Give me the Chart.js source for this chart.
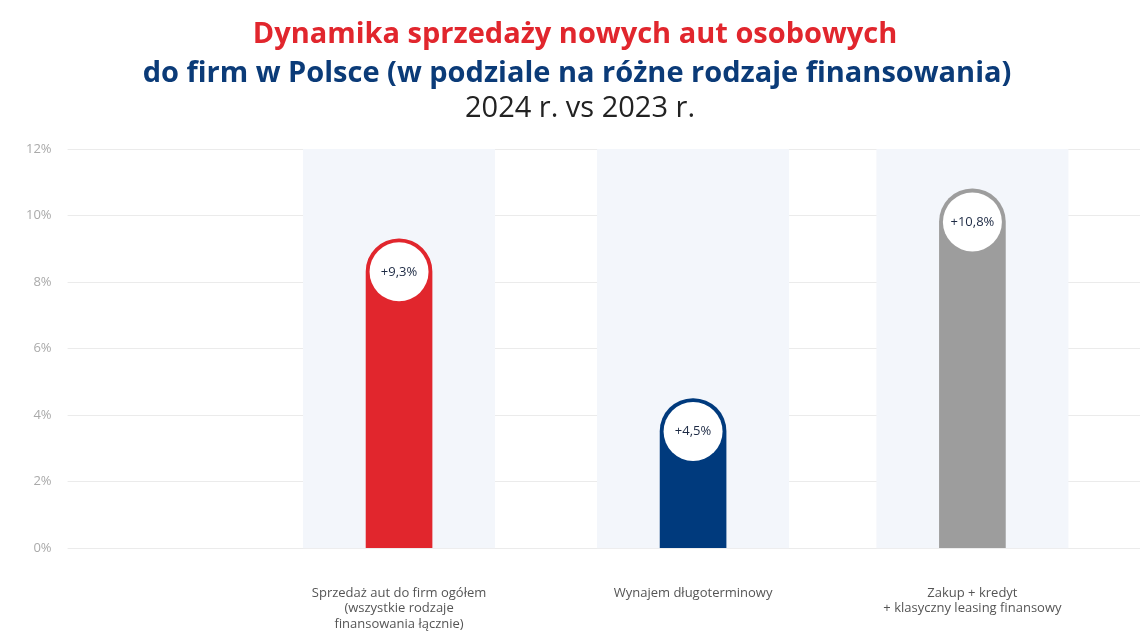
<!DOCTYPE html><html><head><meta charset="utf-8">
<script src="https://cdn.jsdelivr.net/npm/chart.js@4"></script>
<style>html,body{margin:0;padding:0;background:#fff}#w{width:1140px;height:642px}</style></head><body>
<div id="w"><canvas id="c" width="1140" height="642"></canvas></div>
<script>
const categories = [["Sprzedaż aut do firm ogółem","(wszystkie rodzaje","finansowania łącznie)"],["Wynajem długoterminowy"],["Zakup + kredyt","+ klasyczny leasing finansowy"]];
const positions = [1, 2, 2.95];
const values = [9.3, 4.5, 10.8];
const valueLabels = ["+9,3%","+4,5%","+10,8%"];
const colors = ["#e1262d","#003a7d","#9d9d9d"];
const yTicks = [0,2,4,6,8,10,12];
const F = "'Open Sans', sans-serif";
const deco = {
  id:'deco',
  beforeDatasetsDraw(ch){
    const {ctx, chartArea:a, scales:{x,y}} = ch;
    ctx.save(); ctx.fillStyle='#f3f6fb';
    positions.forEach(p=>{const cx=x.getPixelForValue(p); ctx.fillRect(cx-96,a.top,192,a.bottom-a.top);});
    ctx.restore();
  },
  afterDatasetsDraw(ch){
    const {ctx} = ch; const meta = ch.getDatasetMeta(0);
    ctx.save();
    meta.data.forEach((b,i)=>{
      const cx=b.x, cy=b.y+33;
      ctx.beginPath(); ctx.arc(cx,cy,29.5,0,Math.PI*2); ctx.fillStyle='#fff'; ctx.fill();
      ctx.fillStyle='#1d2a44'; ctx.font="13px "+F; ctx.textAlign='center'; ctx.textBaseline='middle';
      ctx.fillText(valueLabels[i],cx,cy);
    });
    ctx.textAlign='center'; ctx.textBaseline='alphabetic';
    ctx.font="bold 29px "+F; ctx.fillStyle='#e1262d'; ctx.fillText("Dynamika sprzedaży nowych aut osobowych",575,43);
    ctx.fillStyle='#0b3b78'; ctx.fillText("do firm w Polsce (w podziale na różne rodzaje finansowania)",577,82);
    ctx.font="29px "+F; ctx.fillStyle='#222'; ctx.fillText("2024 r. vs 2023 r.",580,117);
    ctx.restore();
  }
};
new Chart(document.getElementById('c'),{
  type:'bar',
  data:{datasets:[{data:positions.map((p,i)=>({x:p,y:values[i]})),backgroundColor:colors,barThickness:66,
    borderRadius:{topLeft:33,topRight:33,bottomLeft:0,bottomRight:0},borderSkipped:'bottom'}]},
  options:{responsive:false,animation:false,devicePixelRatio:1,
    layout:{padding:{top:149,right:0,left:10,bottom:-19}},
    plugins:{legend:{display:false},tooltip:{enabled:false}},
    scales:{
      x:{type:'linear',offset:false,min:-0.1,max:3.52,grid:{display:false,offset:false},border:{display:false},
        afterBuildTicks(s){s.ticks=positions.map(v=>({value:v}));},
        ticks:{autoSkip:false,maxRotation:0,color:'#555',font:{family:F,size:13},padding:29,
          callback:(v,i)=>categories[i]}},
      y:{min:0,max:12,afterBuildTicks(s){s.ticks=yTicks.map(v=>({value:v}));},
        grid:{color:'#ebebeb'},border:{display:false},
        ticks:{color:'#aaa',font:{family:F,size:13},padding:16,callback:v=>v+'%'}}
    }},
  plugins:[deco]
});
</script></body></html>
